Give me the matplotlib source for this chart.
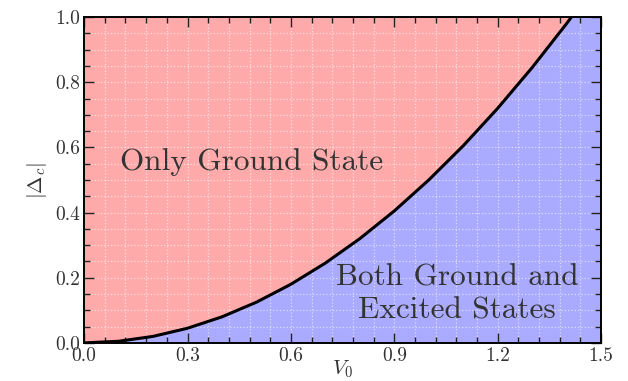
import numpy as np
import matplotlib
matplotlib.use("Agg")
import matplotlib.pyplot as plt
from matplotlib.ticker import MultipleLocator

# boundary curve
v0 = [0.0, 0.1, 0.2, 0.3, 0.4, 0.5, 0.6, 0.7, 0.8, 0.9, 1.0, 1.1, 1.2, 1.3, 1.4, 1.414]
delta_c = [0.0, 0.005, 0.02, 0.045, 0.08, 0.125, 0.18, 0.245, 0.32, 0.405,
           0.5, 0.605, 0.72, 0.845, 0.98, 1.0]

x_ticks = [0.0, 0.3, 0.6, 0.9, 1.2, 1.5]
y_ticks = [0.0, 0.2, 0.4, 0.6, 0.8, 1.0]

plt.rcParams['font.family'] = 'serif'
plt.rcParams['font.serif'] = ['cmr10']
plt.rcParams['mathtext.fontset'] = 'cm'
plt.rcParams['axes.formatter.use_mathtext'] = True
plt.rcParams['axes.unicode_minus'] = False

red = '#ffaaaa'
blue = '#aaaaff'
txt = '#333333'

fig = plt.figure(figsize=(6.28, 3.81), dpi=100)
ax = fig.add_axes([0.134, 0.100, 0.823, 0.855])
ax.set_facecolor(red)

ax.fill_between(v0, 0, delta_c, color=blue, lw=0, zorder=1)
ax.axvspan(v0[-1], 1.5, color=blue, lw=0, zorder=1)
ax.plot(v0, delta_c, color='black', lw=2.2, zorder=3, solid_capstyle='butt')

ax.set_xlim(0, 1.5)
ax.set_ylim(0, 1.0)
ax.set_xticks(x_ticks)
ax.set_yticks(y_ticks)
ax.xaxis.set_minor_locator(MultipleLocator(0.06))
ax.yaxis.set_minor_locator(MultipleLocator(0.05))
ax.set_xticklabels(['%.1f' % t for t in x_ticks])
ax.set_yticklabels(['%.1f' % t for t in y_ticks])

ax.grid(which='both', color='white', ls=':', lw=0.9, alpha=0.6, zorder=2)
ax.set_axisbelow(False)
ax.tick_params(which='both', direction='in', top=True, right=True,
               labelsize=14, labelcolor=txt, color='#222222', pad=3)
ax.tick_params(which='major', length=7, width=1.0)
ax.tick_params(which='minor', length=4, width=1.0)
for s in ax.spines.values():
    s.set_linewidth(1.4)
    s.set_zorder(4)

ax.set_xlabel('$V_0$', fontsize=15, color=txt, labelpad=-5)
ax.set_ylabel(r'$|\Delta_c|$', fontsize=15, color=txt, labelpad=4)

ax.text(0.485, 0.555, 'Only Ground State', fontsize=22.5, color=txt,
        ha='center', va='center', zorder=5)
ax.text(1.082, 0.15, 'Both Ground and\nExcited States', fontsize=22.5, color=txt,
        ha='center', va='center', linespacing=1.25, zorder=5)

fig.savefig('out.png', dpi=100)
